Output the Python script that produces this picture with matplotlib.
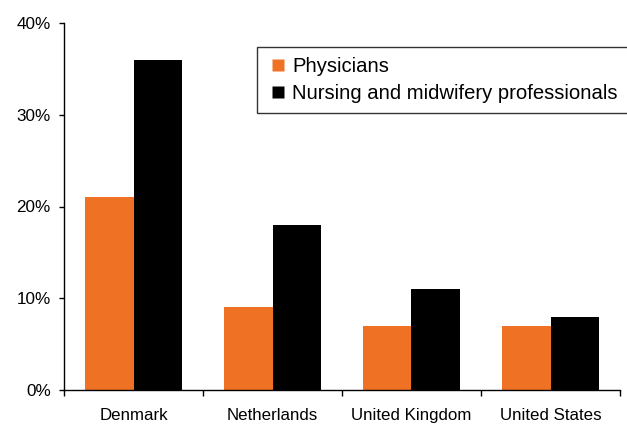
import matplotlib
matplotlib.use("Agg")
import matplotlib.pyplot as plt
import numpy as np
from matplotlib.lines import Line2D

countries = ["Denmark", "Netherlands", "United Kingdom", "United States"]
physicians = [21, 9, 7, 7]
nursing = [36, 18, 11, 8]
series_names = ["Physicians", "Nursing and midwifery professionals"]
yticks = [0, 10, 20, 30, 40]
ytick_labels = ["0%", "10%", "20%", "30%", "40%"]

ORANGE = "#EF7124"
BLACK = "#000000"

plt.rcParams['font.family'] = ['Liberation Sans', 'DejaVu Sans']

fig = plt.figure(figsize=(6.27, 4.24), dpi=100)
ax = fig.add_axes([64/627, 1-390/424, (620-64)/627, (390-23)/424])

x = np.arange(len(countries))
w = 0.35
ax.bar(x - w/2, physicians, width=w, color=ORANGE, label=series_names[0], zorder=2)
ax.bar(x + w/2, nursing, width=w, color=BLACK, label=series_names[1], zorder=2)

ax.set_xlim(-0.5, len(countries) - 0.5)
ax.set_ylim(0, 40)
ax.set_yticks(yticks)
ax.set_yticklabels(ytick_labels, fontsize=12.3)

# category labels centered, ticks at boundaries
ax.set_xticks(np.arange(len(countries) + 1) - 0.5)
ax.set_xticklabels([])
ax.set_xticks(x, minor=True)
ax.set_xticklabels(countries, minor=True, fontsize=12.2)
ax.tick_params(axis='x', which='minor', length=0, pad=13)
ax.tick_params(axis='x', which='major', length=4, width=1, direction='out')
ax.tick_params(axis='y', length=3.5, width=1, direction='out', pad=6)

for s in ['top', 'right']:
    ax.spines[s].set_visible(False)
for s in ['left', 'bottom']:
    ax.spines[s].set_linewidth(1.0)

handles = [Line2D([], [], linestyle='none', marker='s', markersize=8.6,
                  markerfacecolor=ORANGE, markeredgecolor='none'),
           Line2D([], [], linestyle='none', marker='s', markersize=8.6,
                  markerfacecolor=BLACK, markeredgecolor='none')]
leg = fig.legend(handles, series_names, loc='upper left',
                 bbox_to_anchor=(257/627, 1-47/424), bbox_transform=fig.transFigure,
                 fontsize=14.6, frameon=True, fancybox=False,
                 handlelength=1.1, handletextpad=0.15,
                 labelspacing=0.38, borderpad=0.5, borderaxespad=0)
leg.get_frame().set_edgecolor('black')
leg.get_frame().set_linewidth(1.0)

fig.savefig("out.png", dpi=100)
